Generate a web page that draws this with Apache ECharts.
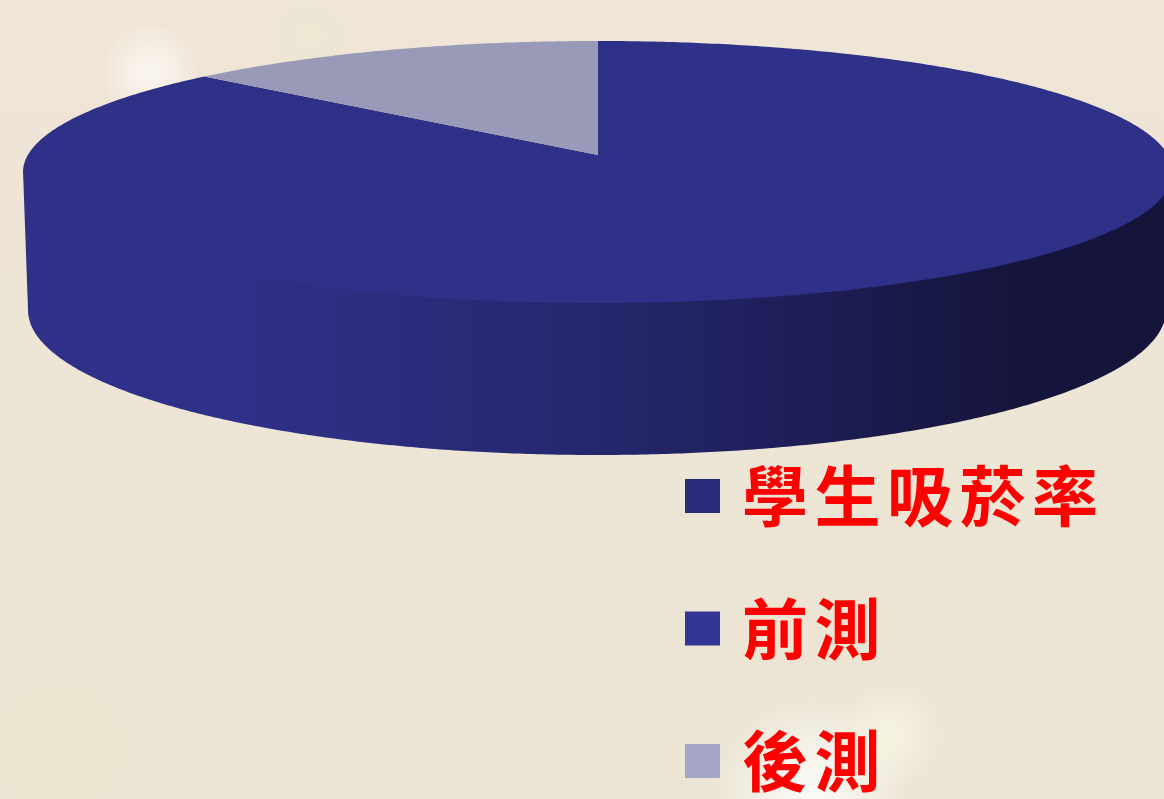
<!DOCTYPE html>
<html>
<head>
<meta charset="utf-8">
<style>html,body{margin:0;padding:0;background:#efe6d6}#c{width:1164px;height:799px}</style>
<script src="https://cdn.jsdelivr.net/npm/echarts@6/dist/echarts.min.js"></script>
</head>
<body>
<div id="c"></div>
<script>
// Data
var legendTitle = '學生吸菸率';
var sliceNames = ['前測', '後測'];
var sliceValues = [88, 12];

// Appearance
var topColors = ['#2f3189', '#9999b8'];
var legendColors = {'學生吸菸率': '#2a2b7b', '前測': '#343695', '後測': '#a5a6c6'};
var topEllipse = {cx: 598, cy: 172, rx: 575, ry: 131, apexY: 155};
var wallTop = {cx: 598, cy: 170.5, rx: 575, ry: 131};
var baseEllipse = {cx: 597, cy: 310, rx: 569, ry: 145};

var total = sliceValues.reduce(function (a, b) { return a + b; }, 0);
function point(e, deg) {
  var r = deg * Math.PI / 180;
  return [e.cx + e.rx * Math.sin(r), e.cy - e.ry * Math.cos(r)];
}
function arc(e, from, to) {
  var pts = [], n = Math.max(2, Math.ceil(Math.abs(to - from) * 2));
  for (var i = 0; i <= n; i++) pts.push(point(e, from + (to - from) * i / n));
  return pts;
}
function sliceRange(idx) {
  var start = 0;
  for (var i = 0; i < idx; i++) start += sliceValues[i];
  return [start / total * 360, (start + sliceValues[idx]) / total * 360];
}
function renderSlice(idx) {
  return function (params, api) {
    var range = sliceRange(idx), children = [];
    var a = Math.max(range[0], 90), b = Math.min(range[1], 270);
    if (b > a) {
      var wall = arc(wallTop, a, b).concat(arc(baseEllipse, b, a));
      children.push({
        type: 'polygon', z2: 1, shape: {points: wall},
        style: {
          fill: new echarts.graphic.LinearGradient(0, 0, 1, 0, [
            {offset: 0, color: '#2f3189'},
            {offset: 0.18, color: '#2f3189'},
            {offset: 0.5, color: '#25276d'},
            {offset: 0.68, color: '#1d1e56'},
            {offset: 0.86, color: '#15153c'},
            {offset: 1, color: '#15153c'}
          ])
        }
      });
    }
    var face = [[topEllipse.cx, topEllipse.apexY]].concat(arc(topEllipse, range[0], range[1]));
    children.push({type: 'polygon', z2: 2, shape: {points: face}, style: {fill: topColors[idx]}});
    return {type: 'group', children: children};
  };
}
function glow(cx, cy, rx, ry, color, alpha) {
  return {
    type: 'ellipse', silent: true, z: -10,
    shape: {cx: cx, cy: cy, rx: rx, ry: ry},
    style: {fill: new echarts.graphic.RadialGradient(0.5, 0.5, 0.5, [
      {offset: 0, color: 'rgba(' + color + ',' + alpha + ')'},
      {offset: 0.45, color: 'rgba(' + color + ',' + (alpha * 0.6) + ')'},
      {offset: 1, color: 'rgba(' + color + ',0)'}
    ])}
  };
}

var series = [{name: legendTitle, type: 'custom', coordinateSystem: 'none', data: [], renderItem: function () { return null; }}];
sliceNames.forEach(function (name, i) {
  series.push({
    name: name, type: 'custom', coordinateSystem: 'none', silent: true,
    data: [sliceValues[i]], renderItem: renderSlice(i)
  });
});

var richBase = {color: '#ff0000', fontSize: 66, lineHeight: 72, fontWeight: 'bold', fontFamily: '"Noto Sans CJK TC"', align: 'right'};
function rich(width) { return Object.assign({width: width}, richBase); }

var chart = echarts.init(document.getElementById('c'));
chart.setOption({
  animation: false,
  backgroundColor: new echarts.graphic.LinearGradient(0, 0, 0, 1, [
    {offset: 0, color: '#f0e5d7'},
    {offset: 0.5, color: '#ede5d5'},
    {offset: 1, color: '#ece5d3'}
  ]),
  graphic: [
    glow(150, 72, 50, 85, '255,252,248', 0.75),
    glow(310, 35, 130, 50, '235,231,210', 0.8),
    glow(812, 795, 105, 100, '250,251,248', 1),
    glow(890, 735, 55, 65, '253,251,236', 0.6),
    glow(60, 745, 230, 75, '236,232,208', 0.7)
  ],
  legend: {
    show: true, orient: 'vertical', left: 685, top: 460, padding: 0,
    itemWidth: 35, itemHeight: 34, itemGap: 60.5,
    selectedMode: false, icon: 'rect',
    data: [legendTitle].concat(sliceNames).map(function (n) {
      return {name: n, icon: 'rect', itemStyle: {color: legendColors[n], borderWidth: 0}};
    }),
    formatter: function (name) {
      return name.split('').map(function (ch, i) {
        return (i === 0 ? '{f|' : '{c|') + ch + '}';
      }).join('');
    },
    textStyle: {
      color: '#ff0000', fontSize: 66, lineHeight: 72,
      rich: {f: rich(83), c: rich(72.5)}
    }
  },
  series: series
});
</script>
</body>
</html>
